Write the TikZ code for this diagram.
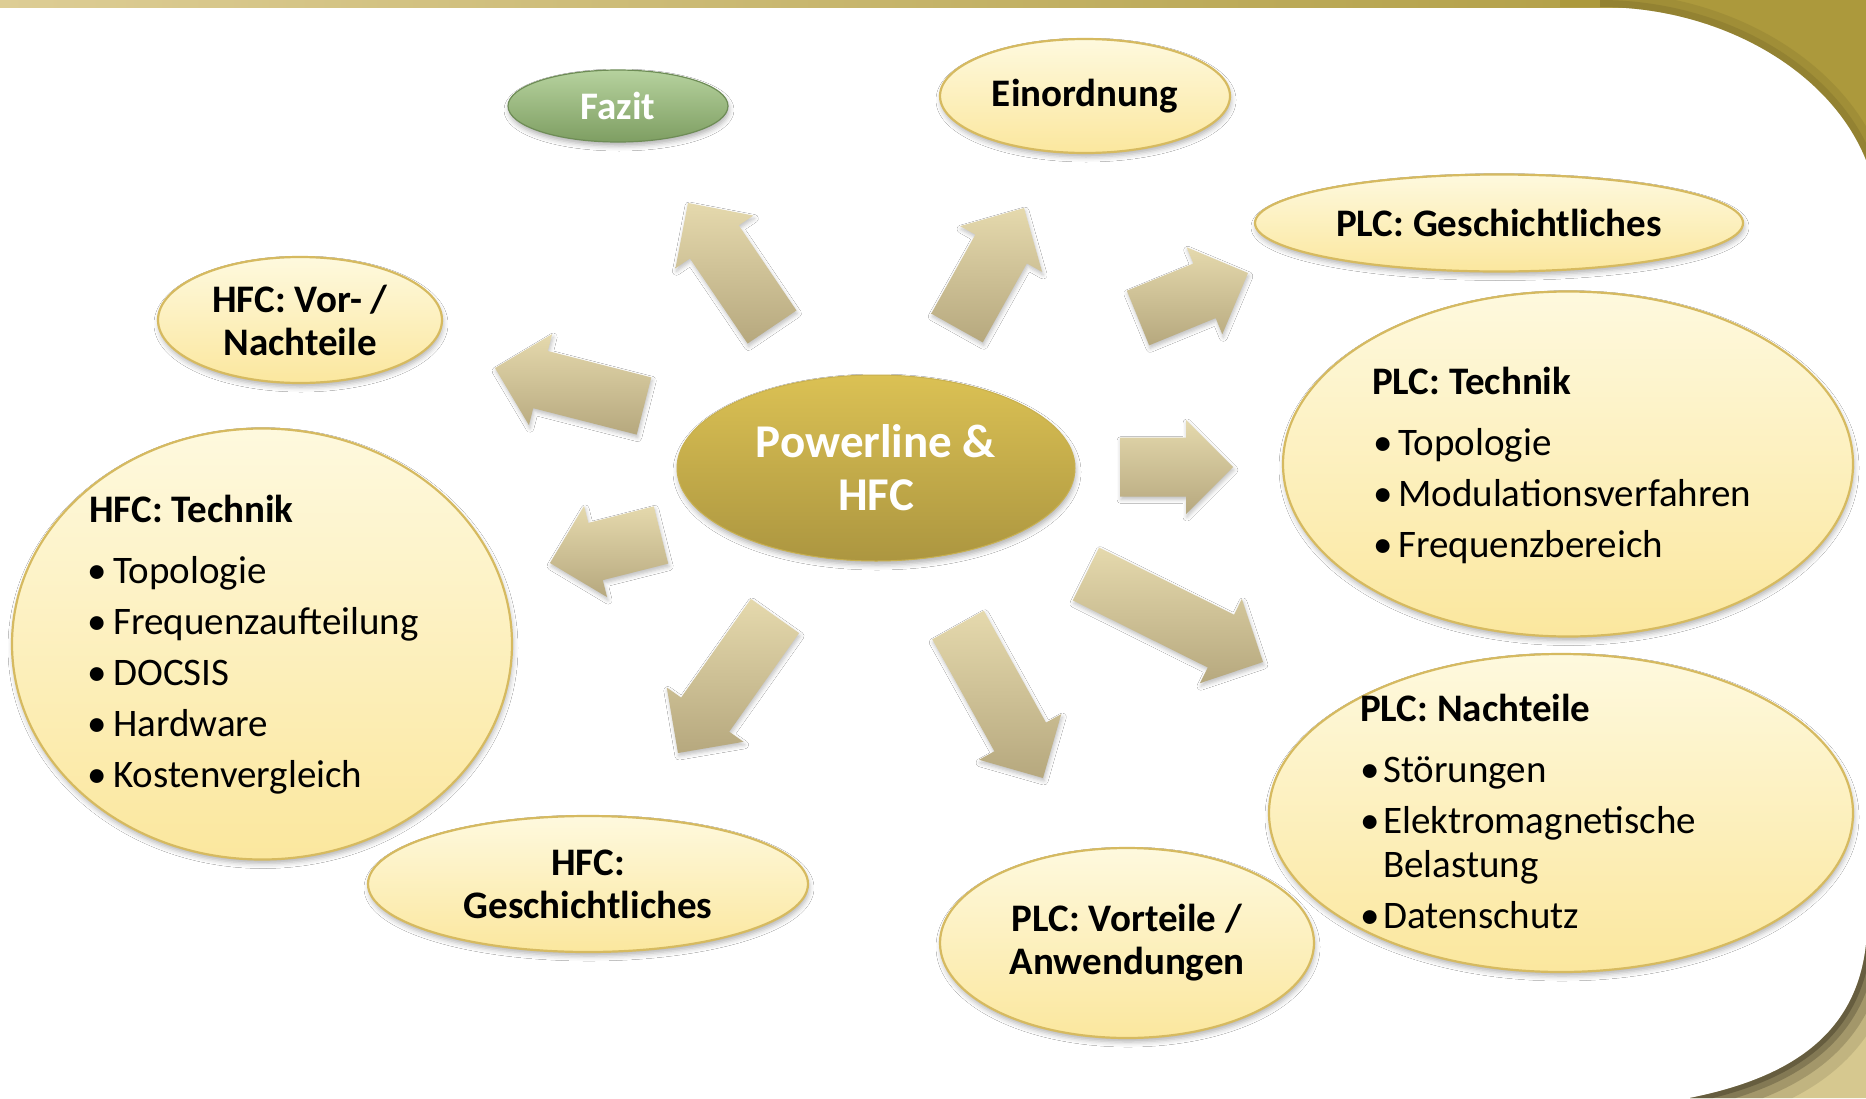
\documentclass[tikz,border=0pt]{standalone}
\usepackage{fontspec}
\setmainfont{Carlito}
\usetikzlibrary{shapes.geometric,calc,shadows.blur}

% palette
\definecolor{bandleft}{RGB}{221,205,149}
\definecolor{gold}{RGB}{172,153,60}
\definecolor{goldshade}{RGB}{95,82,30}
\definecolor{tan}{RGB}{214,200,143}
\definecolor{tanshade}{RGB}{74,67,44}
\definecolor{bubbletop}{RGB}{254,249,222}
\definecolor{bubblebot}{RGB}{251,231,158}
\definecolor{bubbleline}{RGB}{214,186,96}
\definecolor{coretop}{RGB}{219,193,84}
\definecolor{corebot}{RGB}{172,150,64}
\definecolor{coreline}{RGB}{200,176,80}
\definecolor{greentop}{RGB}{182,210,158}
\definecolor{greenbot}{RGB}{126,158,98}
\definecolor{greenline}{RGB}{110,140,86}
\definecolor{arrowtop}{RGB}{229,217,173}
\definecolor{arrowbot}{RGB}{182,168,126}

\tikzset{
  softshadow/.style={blur shadow={shadow xshift=1pt, shadow yshift=-4pt,
      shadow blur radius=5pt, shadow opacity=30}},
  bubble/.style={ellipse, draw=bubbleline, line width=2.2pt,
      top color=bubbletop, bottom color=bubblebot, inner sep=0pt,
      softshadow, font=\fontsize{39}{43}\selectfont\bfseries, align=center},
  corebubble/.style={ellipse, draw=coreline, line width=1pt,
      top color=coretop, bottom color=corebot, inner sep=0pt, text=white,
      softshadow, font=\fontsize{47}{53}\selectfont\bfseries, align=center},
  greenbubble/.style={ellipse, draw=greenline, line width=1.2pt,
      top color=greentop, bottom color=greenbot, inner sep=0pt, text=white,
      softshadow, font=\fontsize{39}{43}\selectfont\bfseries},
  blockarrow/.style={top color=arrowtop, bottom color=arrowbot,
      blur shadow={shadow xshift=1pt, shadow yshift=-3pt,
      shadow blur radius=4pt, shadow opacity=25}},
  listhead/.style={anchor=base west, inner sep=0pt,
      font=\fontsize{39}{43}\selectfont\bfseries},
  listitem/.style={anchor=base west, inner sep=0pt,
      font=\fontsize{39}{43}\selectfont},
  listbullet/.style={listitem, xshift=-5pt},
}

% block arrow from a base point #1 to a tip point #2
\newcommand{\blockarrow}[2]{%
  \coordinate (#1-hb) at ($(#2)!47pt!(#1)$);
  \shade[blockarrow]
    ($(#1)!29.5pt!90:(#2)$) -- ($(#1-hb)!29.5pt!90:(#2)$) --
    ($(#1-hb)!47pt!90:(#2)$) -- (#2) --
    ($(#1-hb)!47pt!-90:(#2)$) -- ($(#1-hb)!29.5pt!-90:(#2)$) --
    ($(#1)!29.5pt!-90:(#2)$) -- cycle;
}

\begin{document}
\begin{tikzpicture}[x=1pt,y=-1pt]
\useasboundingbox (0,0) rectangle (1866,1098);
\fill[white] (0,0) rectangle (1866,1098);

% top band and curled upper right corner
\shade[left color=bandleft, right color=gold] (0,0) rectangle (1866,7);
\fill[gold] (1560,0) -- (1866,0) -- (1866,160)
  .. controls (1830,70) and (1720,7) .. (1600,7) -- (1560,7) -- cycle;
\begin{scope}
  \clip (1560,0) -- (1866,0) -- (1866,160)
    .. controls (1830,70) and (1720,7) .. (1600,7) -- (1560,7) -- cycle;
  \draw[goldshade, line width=30pt, opacity=0.15]
    (1600,7) .. controls (1720,7) and (1830,70) .. (1866,160);
  \draw[goldshade, line width=14pt, opacity=0.2]
    (1600,7) .. controls (1720,7) and (1830,70) .. (1866,160);
\end{scope}

% curled lower right corner
\fill[tan] (1866,945) .. controls (1856,1035) and (1790,1078) .. (1690,1098)
  -- (1866,1098) -- cycle;
\begin{scope}
  \clip (1866,945) .. controls (1856,1035) and (1790,1078) .. (1690,1098)
    -- (1866,1098) -- cycle;
  \foreach \w/\o in {64/0.15, 40/0.25, 22/0.35, 10/0.5}
    \draw[tanshade, line width=\w pt, opacity=\o]
      (1866,945) .. controls (1856,1035) and (1790,1078) .. (1690,1098);
\end{scope}

% arrow anchor points
\coordinate (a1) at (772,327);  \coordinate (t1) at (688,203);
\coordinate (a2) at (957,328);  \coordinate (t2) at (1024,208);
\coordinate (a3) at (1138,318); \coordinate (t3) at (1248,273);
\coordinate (a4) at (1120,467); \coordinate (t4) at (1233,467);
\coordinate (a5) at (1086,574); \coordinate (t5) at (1263,662);
\coordinate (a6) at (958,625);  \coordinate (t6) at (1043,778);
\coordinate (a7) at (775,616);  \coordinate (t7) at (678,753);
\coordinate (a8) at (661,535);  \coordinate (t8) at (550,563);
\coordinate (a9) at (644,406);  \coordinate (t9) at (495,368);
\foreach \i in {1,...,9} {\blockarrow{a\i}{t\i}}

% centre
\node[corebubble, minimum width=398pt, minimum height=186pt] (core)
  at (876,468) {Powerline \&\\HFC};

% topics
\node[greenbubble, minimum width=220pt, minimum height=72pt] (fazit)
  at (618,106) {Fazit};
\node[bubble, minimum width=290pt, minimum height=114pt] (einord)
  at (1085,96) {Einordnung};
\node[bubble, minimum width=488pt, minimum height=97pt] (plcg)
  at (1499,223) {PLC: Geschichtliches};
\node[bubble, minimum width=570pt, minimum height=345pt] (plct)
  at (1568,464) {};
\node[bubble, minimum width=584pt, minimum height=318pt] (plcn)
  at (1561,813) {};
\node[bubble, minimum width=374pt, minimum height=190pt] (plcv)
  at (1127,943) {PLC: Vorteile /\\Anwendungen};
\node[bubble, minimum width=440pt, minimum height=136pt] (hfcg)
  at (588,884) {HFC:\\Geschichtliches};
\node[bubble, minimum width=500pt, minimum height=431pt] (hfct)
  at (262,644) {};
\node[bubble, minimum width=284pt, minimum height=126pt] (hfcv)
  at (300,320) {HFC: Vor- /\\Nachteile};

% list: PLC Technik
\node[listhead] (plct-h) at (1372,394) {PLC: Technik};
\node[listbullet] (plct-b1) at (1378,455) {•};
\node[listitem] (plct-1) at (1398,455) {Topologie};
\node[listbullet] (plct-b2) at (1378,506) {•};
\node[listitem] (plct-2) at (1398,506) {Modulationsverfahren};
\node[listbullet] (plct-b3) at (1378,557) {•};
\node[listitem] (plct-3) at (1398,557) {Frequenzbereich};

% list: PLC Nachteile
\node[listhead] (plcn-h) at (1360,721) {PLC: Nachteile};
\node[listbullet] (plcn-b1) at (1365,782) {•};
\node[listitem] (plcn-1) at (1383,782) {Störungen};
\node[listbullet] (plcn-b2) at (1365,833) {•};
\node[listitem] (plcn-2) at (1383,833) {Elektromagnetische};
\node[listitem] (plcn-2b) at (1383,877) {Belastung};
\node[listbullet] (plcn-b3) at (1365,928) {•};
\node[listitem] (plcn-3) at (1383,928) {Datenschutz};

% list: HFC Technik
\node[listhead] (hfct-h) at (89,522) {HFC: Technik};
\node[listbullet] (hfct-b1) at (92,583) {•};
\node[listitem] (hfct-1) at (113,583) {Topologie};
\node[listbullet] (hfct-b2) at (92,634) {•};
\node[listitem] (hfct-2) at (113,634) {Frequenzaufteilung};
\node[listbullet] (hfct-b3) at (92,685) {•};
\node[listitem] (hfct-3) at (113,685) {DOCSIS};
\node[listbullet] (hfct-b4) at (92,736) {•};
\node[listitem] (hfct-4) at (113,736) {Hardware};
\node[listbullet] (hfct-b5) at (92,787) {•};
\node[listitem] (hfct-5) at (113,787) {Kostenvergleich};
\end{tikzpicture}
\end{document}
